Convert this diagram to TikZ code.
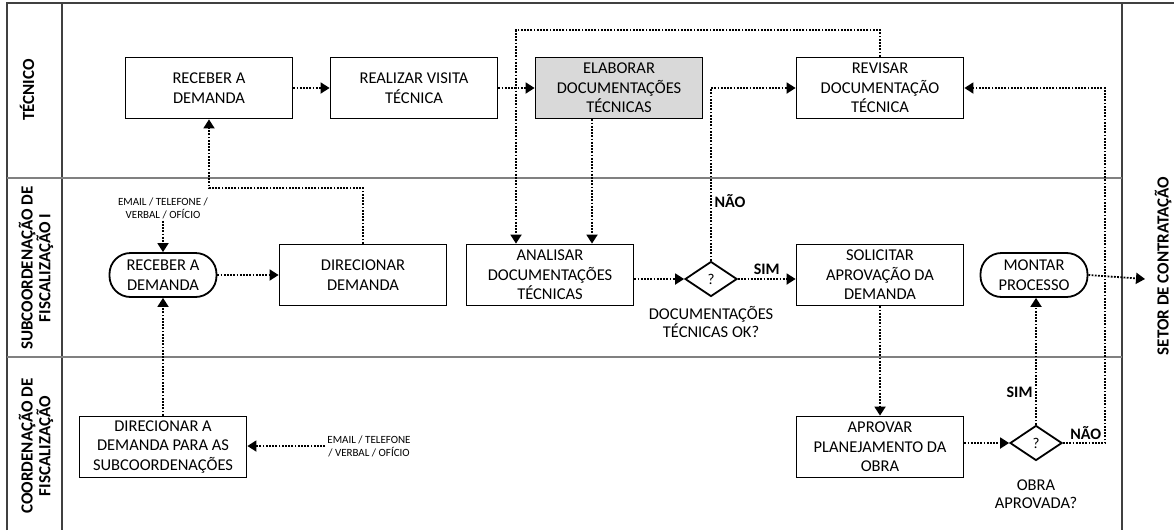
\documentclass[tikz,border=0pt]{standalone}
\usepackage{fontspec}
\setmainfont{Carlito}
\usetikzlibrary{arrows.meta,shapes.geometric}
\tikzset{
  tarefa/.style={draw=black, line width=1.8pt, minimum width=167pt, minimum height=61pt, inner sep=2pt, align=center, font=\fontsize{16.5}{19.5}\selectfont},
  terminal/.style={tarefa, rounded corners=21pt, minimum width=107pt, minimum height=44pt},
  decisao/.style={draw=black, line width=1.8pt, diamond, minimum width=52pt, minimum height=35pt, inner sep=0pt, font=\fontsize{15}{17}\selectfont},
  fluxo/.style={line width=1.8pt, dash pattern=on 1.8pt off 1.4pt, -{Triangle[length=9pt,width=11pt]}},
  raia/.style={rotate=90, align=center, font=\bfseries\fontsize{17}{16.5}\selectfont},
  rotulo/.style={font=\bfseries\fontsize{16}{18}\selectfont},
  nota/.style={align=center, inner sep=2pt, font=\fontsize{11}{13}\selectfont},
  legenda/.style={align=center, font=\fontsize{16.5}{18.5}\selectfont}
}
\begin{document}
\begin{tikzpicture}[x=1pt, y=-1pt]
\useasboundingbox (0,0) rectangle (1174,530);
\definecolor{borda}{HTML}{404040}
\definecolor{divisa}{HTML}{808080}
\definecolor{destaque}{HTML}{D9D9D9}
\draw[borda, line width=1.4pt] (7,530) -- (7,3) -- (1174,3) (62,3) -- (62,530) (1122,3) -- (1122,530);
\draw[divisa, line width=1.6pt] (7,178) -- (1122,178) (7,357) -- (1122,357);
\node[raia] (lanetec) at (27,90) {TÉCNICO};
\node[raia] (lanesub) at (36,268) {SUBCOORDENAÇÃO DE\\FISCALIZAÇÃO I};
\node[raia] (lanecoord) at (36,446) {COORDENAÇÃO DE\\FISCALIZAÇÃO};
\node[raia] (lanesetor) at (1163,266) {SETOR DE CONTRATAÇÃO};
\node[tarefa] (recebertec) at (209,88) {RECEBER A\\DEMANDA};
\node[tarefa] (visita) at (414,88) {REALIZAR VISITA\\TÉCNICA};
\node[tarefa, fill=destaque] (elaborar) at (619,88) {ELABORAR\\DOCUMENTAÇÕES\\TÉCNICAS};
\node[tarefa] (revisar) at (880,88) {REVISAR\\DOCUMENTAÇÃO\\TÉCNICA};
\node[nota] (emailsub) at (163,208) {EMAIL / TELEFONE /\\VERBAL / OFÍCIO};
\node[terminal] (recebersub) at (163,275) {RECEBER A\\DEMANDA};
\node[tarefa] (direcionar) at (363,275) {DIRECIONAR\\DEMANDA};
\node[tarefa] (analisar) at (550,275) {ANALISAR\\DOCUMENTAÇÕES\\TÉCNICAS};
\node[decisao] (docok) at (711,279) {?};
\node[legenda] (docoktxt) at (711,322) {DOCUMENTAÇÕES\\TÉCNICAS OK?};
\node[tarefa] (solicitar) at (880,275) {SOLICITAR\\APROVAÇÃO DA\\DEMANDA};
\node[terminal] (montar) at (1034,275) {MONTAR\\PROCESSO};
\node[tarefa] (direcionarcoord) at (163,447) {DIRECIONAR A\\DEMANDA PARA AS\\SUBCOORDENAÇÕES};
\node[nota] (emailcoord) at (369,446) {EMAIL / TELEFONE\\/ VERBAL / OFÍCIO};
\node[tarefa] (aprovar) at (880,447) {APROVAR\\PLANEJAMENTO DA\\OBRA};
\node[decisao] (obraok) at (1036,443) {?};
\node[legenda] (obraoktxt) at (1036,494) {OBRA\\APROVADA?};
\coordinate (desvio) at (209,188);
\coordinate (laco) at (516,30);
\coordinate (retorno) at (1105,88);
\coordinate (setor) at (1145,279);
\draw[fluxo] (recebertec) -- (visita);
\draw[fluxo] (visita) -- (elaborar);
\draw[fluxo] (docok.north) |- (revisar.west);
\draw[fluxo] (revisar.north) |- (laco) -- (laco |- analisar.north);
\draw[fluxo] ([xshift=-27pt]elaborar.south) -- ([xshift=-27pt]elaborar.south |- analisar.north);
\draw[fluxo] (obraok.east) -| (retorno) -- (revisar.east);
\draw[fluxo] (emailsub.south) -- (recebersub.north);
\draw[fluxo] (recebersub) -- (direcionar);
\draw[fluxo] (direcionar.north) |- (desvio) -- (recebertec.south);
\draw[fluxo] (analisar.east |- docok.west) -- (docok.west);
\draw[fluxo] (docok.east) -- (docok.east -| solicitar.west) node[rotulo, midway, above] {SIM};
\draw[fluxo] (solicitar.south) -- (aprovar.north);
\draw[fluxo] (aprovar.east |- obraok.west) -- (obraok.west);
\draw[fluxo] (obraok.north) -- (obraok.north |- montar.south);
\draw[fluxo] (montar.east) -- (setor);
\draw[fluxo] (emailcoord.west) -- (emailcoord.west -| direcionarcoord.east);
\draw[fluxo] (direcionarcoord.north) -- (recebersub.south);
\node[rotulo, right] (naodoc) at ([yshift=60pt]docok.north) {NÃO};
\node[rotulo, left] (simobra) at ([yshift=32pt]obraok.north) {SIM};
\node[rotulo, above right] (naoobra) at ([xshift=4pt]obraok.east) {NÃO};
\end{tikzpicture}
\end{document}
